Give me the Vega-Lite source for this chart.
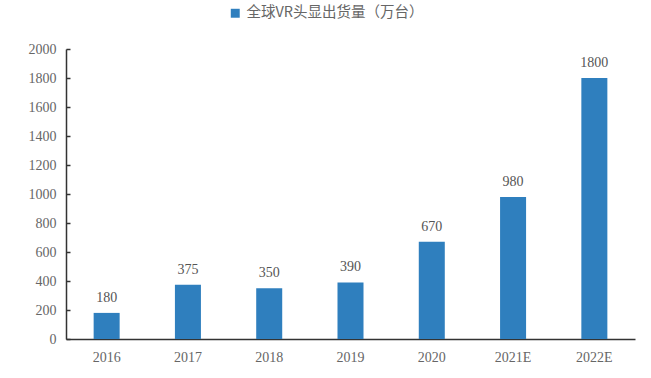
{
  "$schema": "https://vega.github.io/schema/vega-lite/v6.json",
  "width": 569,
  "height": 290,
  "autosize": "none",
  "padding": {"left": 66, "top": 49, "right": 16, "bottom": 39},
  "background": "white",
  "config": {"view": {"stroke": null}},
  "data": {"values": [
    {"year": "2016", "value": 180, "series": "全球VR头显出货量（万台）"},
    {"year": "2017", "value": 375, "series": "全球VR头显出货量（万台）"},
    {"year": "2018", "value": 350, "series": "全球VR头显出货量（万台）"},
    {"year": "2019", "value": 390, "series": "全球VR头显出货量（万台）"},
    {"year": "2020", "value": 670, "series": "全球VR头显出货量（万台）"},
    {"year": "2021E", "value": 980, "series": "全球VR头显出货量（万台）"},
    {"year": "2022E", "value": 1800, "series": "全球VR头显出货量（万台）"}
  ]},
  "encoding": {
    "x": {"field": "year", "type": "ordinal", "sort": null,
      "scale": {"paddingInner": 0.68, "paddingOuter": 0.34},
      "axis": {"title": null, "labelAngle": 0, "ticks": false, "domainColor": "#333333", "domainWidth": 1.5,
        "labelFont": "Liberation Serif", "labelFontSize": 14, "labelColor": "#666666", "labelPadding": 11}},
    "y": {"field": "value", "type": "quantitative",
      "scale": {"domain": [0, 2000]},
      "axis": {"title": null, "values": [0,200,400,600,800,1000,1200,1400,1600,1800,2000], "format": "d", "grid": false,
        "domainColor": "#333333", "domainWidth": 1.5, "tickColor": "#333333", "tickSize": -4, "tickWidth": 1.5,
        "labelFont": "Liberation Serif", "labelFontSize": 14, "labelColor": "#666666", "labelPadding": 14}}
  },
  "layer": [
    {"mark": {"type": "bar", "color": "#2F7FBE"},
     "encoding": {"color": {"field": "series", "type": "nominal",
       "scale": {"range": ["#2F7FBE"]},
       "legend": {"title": null, "orient": "none", "legendX": 162, "legendY": -43, "symbolType": "square", "symbolSize": 80,
         "labelLimit": 400,
         "labelFont": "Noto Sans CJK SC", "labelFontSize": 14.5, "labelColor": "#666666", "symbolStrokeWidth": 0}}}},
    {"mark": {"type": "text", "baseline": "bottom", "dy": -8, "font": "Liberation Serif", "fontSize": 14, "color": "#555555"},
     "encoding": {"text": {"field": "value", "type": "quantitative"}}}
  ]
}
